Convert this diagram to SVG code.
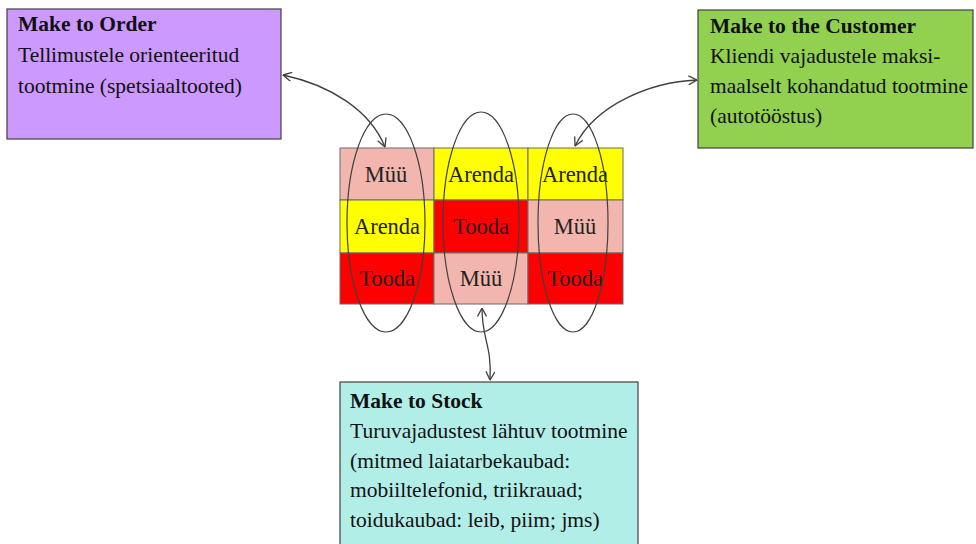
<svg xmlns="http://www.w3.org/2000/svg" width="976" height="544" viewBox="0 0 976 544">
<defs>
<marker id="arr" viewBox="0 0 10 10" refX="9.5" refY="5" markerWidth="10" markerHeight="10" markerUnits="userSpaceOnUse" orient="auto-start-reverse">
<path d="M1,0.5 L9.5,5 L1,9.5" fill="none" stroke="#404040" stroke-width="1.3"/>
</marker>
</defs>
<style>
.box{stroke:#404040;stroke-width:1.2}
.t{font-family:"Liberation Serif","Times New Roman",serif;font-size:21.5px;fill:#111}
.b{font-weight:bold}
.cell{stroke:#6a6a6a;stroke-width:1}
.c{font-family:"Liberation Serif","Times New Roman",serif;font-size:22.5px;fill:#222;text-anchor:middle}
.ell{fill:none;stroke:#404040;stroke-width:1.2}
.con{fill:none;stroke:#404040;stroke-width:1.3;marker-start:url(#arr);marker-end:url(#arr)}
</style>
<rect width="976" height="544" fill="#ffffff"/>
<g id="make-to-order">
<rect class="box" x="7" y="9" width="274" height="130" fill="#CC99FF"/>
<text class="t b" x="18" y="31">Make to Order</text>
<text class="t" x="18" y="62">Tellimustele orienteeritud</text>
<text class="t" x="18" y="93">tootmine (spetsiaaltooted)</text>
</g>
<g id="make-to-customer">
<rect class="box" x="698" y="10" width="275" height="138" fill="#92D050"/>
<text class="t b" x="710" y="33">Make to the Customer</text>
<text class="t" x="710" y="63">Kliendi vajadustele maksi-</text>
<text class="t" x="710" y="93" textLength="258" lengthAdjust="spacingAndGlyphs">maalselt kohandatud tootmine</text>
<text class="t" x="710" y="123">(autotööstus)</text>
</g>
<g id="grid">
<rect class="cell" x="340" y="148" width="94" height="52" fill="#F2B6AF"/>
<rect class="cell" x="434" y="148" width="94" height="52" fill="#FFFF00"/>
<rect class="cell" x="528" y="148" width="95" height="52" fill="#FFFF00"/>
<rect class="cell" x="340" y="200" width="94" height="53" fill="#FFFF00"/>
<rect class="cell" x="434" y="200" width="94" height="53" fill="#FF0000"/>
<rect class="cell" x="528" y="200" width="95" height="53" fill="#F2B6AF"/>
<rect class="cell" x="340" y="253" width="94" height="51" fill="#FF0000"/>
<rect class="cell" x="434" y="253" width="94" height="51" fill="#F2B6AF"/>
<rect class="cell" x="528" y="253" width="95" height="51" fill="#FF0000"/>
<text class="c" x="386" y="174" dy="0.35em">Müü</text>
<text class="c" x="481" y="174" dy="0.35em">Arenda</text>
<text class="c" x="575" y="174" dy="0.35em">Arenda</text>
<text class="c" x="387" y="226" dy="0.35em">Arenda</text>
<text class="c" x="481" y="226" dy="0.35em">Tooda</text>
<text class="c" x="575" y="226" dy="0.35em">Müü</text>
<text class="c" x="387" y="278" dy="0.35em">Tooda</text>
<text class="c" x="481" y="278" dy="0.35em">Müü</text>
<text class="c" x="575" y="278" dy="0.35em">Tooda</text>
</g>
<g id="ellipses">
<ellipse class="ell" cx="386" cy="223" rx="39" ry="109"/>
<ellipse class="ell" cx="481" cy="222" rx="38" ry="110"/>
<ellipse class="ell" cx="573" cy="223" rx="35" ry="109"/>
</g>
<g id="make-to-stock">
<rect class="box" x="340" y="382" width="298" height="170" fill="#B2EEE8"/>
<text class="t b" x="350" y="408">Make to Stock</text>
<text class="t" x="350" y="438">Turuvajadustest lähtuv tootmine</text>
<text class="t" x="350" y="468">(mitmed laiatarbekaubad:</text>
<text class="t" x="350" y="497">mobiiltelefonid, triikrauad;</text>
<text class="t" x="350" y="527">toidukaubad: leib, piim; jms)</text>
</g>
<g id="connectors">
<path class="con" d="M283,75 C330,85 370,110 385,147"/>
<path class="con" d="M697,80 C650,82 595,105 575,146"/>
<path class="con" d="M482,308 C482,340 492,345 490,380"/>
</g>
</svg>
